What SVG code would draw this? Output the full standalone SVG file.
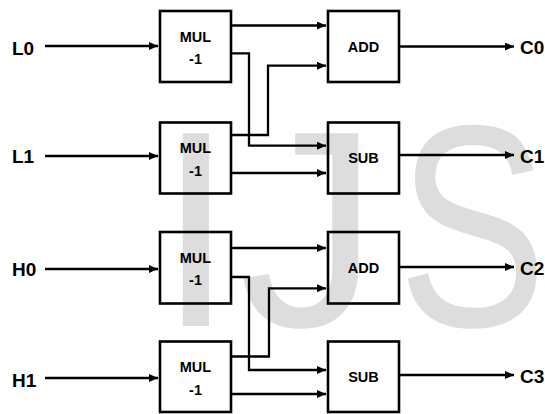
<svg xmlns="http://www.w3.org/2000/svg" width="545" height="414" viewBox="0 0 545 414">
<defs>
<style>
.wm{font-family:"Liberation Sans",Arial,sans-serif;font-size:280px;fill:#dddddd}
.box{fill:none;stroke:#000;stroke-width:2.6}
.bt{font-family:"Liberation Sans",Arial,sans-serif;font-weight:bold;font-size:14.5px;text-anchor:middle;fill:#000}
.lbl{font-family:"Liberation Sans",Arial,sans-serif;font-weight:bold;font-size:19px;fill:#000}
.ln{fill:none;stroke:#000;stroke-width:2.3;marker-end:url(#ah)}
</style>
<marker id="ah" markerUnits="userSpaceOnUse" markerWidth="10" markerHeight="9" refX="9" refY="4" orient="auto">
<path d="M0,0 L9,4 L0,8 z" fill="#000"/>
</marker>
</defs>
<rect width="545" height="414" fill="#fff"/>
<g id="watermark">
<text class="wm" x="157" y="326">I</text>
<text class="wm" x="239" y="326">J</text>
<text class="wm" transform="translate(408,326) scale(0.8,1.03)" x="-13" y="0">S</text>
</g>
<g id="connectors">
<path class="ln" d="M45,46 H158"/>
<path class="ln" d="M45,156 H158"/>
<path class="ln" d="M45,269 H158"/>
<path class="ln" d="M45,378 H158"/>
<path class="ln" d="M232,25.5 H326"/>
<path class="ln" d="M232,53.3 H249 V145.7 H326"/>
<path class="ln" d="M232,135 H268 V65.7 H326"/>
<path class="ln" d="M232,173 H326"/>
<path class="ln" d="M232,248 H326"/>
<path class="ln" d="M232,277 H249 V370 H326"/>
<path class="ln" d="M232,356.5 H269 V288.3 H326"/>
<path class="ln" d="M232,394 H326"/>
<path class="ln" d="M400,46.5 H514"/>
<path class="ln" d="M400,155 H514"/>
<path class="ln" d="M400,267 H514"/>
<path class="ln" d="M400,375 H514"/>
</g>
<g id="in-L0"><text class="lbl" x="12" y="55">L0</text></g>
<g id="in-L1"><text class="lbl" x="12" y="163">L1</text></g>
<g id="in-H0"><text class="lbl" x="12" y="275.5">H0</text></g>
<g id="in-H1"><text class="lbl" x="12" y="386.5">H1</text></g>
<g id="mul0"><rect class="box" x="160" y="11" width="71" height="71"/><text class="bt" x="195.5" y="41.7">MUL</text><text class="bt" x="195.5" y="64">-1</text></g>
<g id="mul1"><rect class="box" x="160" y="122.5" width="71" height="71"/><text class="bt" x="195.5" y="153.2">MUL</text><text class="bt" x="195.5" y="175.5">-1</text></g>
<g id="mul2"><rect class="box" x="160" y="232" width="71" height="71.5"/><text class="bt" x="195.5" y="262.7">MUL</text><text class="bt" x="195.5" y="285">-1</text></g>
<g id="mul3"><rect class="box" x="160" y="341.5" width="71" height="70.5"/><text class="bt" x="195.5" y="372.2">MUL</text><text class="bt" x="195.5" y="394.5">-1</text></g>
<g id="add0"><rect class="box" x="328" y="11" width="71" height="71"/><text class="bt" x="363.5" y="51.7">ADD</text></g>
<g id="sub0"><rect class="box" x="328" y="122.5" width="71" height="71"/><text class="bt" x="363.5" y="163.2">SUB</text></g>
<g id="add1"><rect class="box" x="328" y="232" width="71" height="71.5"/><text class="bt" x="363.5" y="272.7">ADD</text></g>
<g id="sub1"><rect class="box" x="328" y="341.5" width="71" height="70.5"/><text class="bt" x="363.5" y="382.2">SUB</text></g>
<g id="out-C0"><text class="lbl" x="520" y="54">C0</text></g>
<g id="out-C1"><text class="lbl" x="520" y="163">C1</text></g>
<g id="out-C2"><text class="lbl" x="520" y="275">C2</text></g>
<g id="out-C3"><text class="lbl" x="520" y="383">C3</text></g>
</svg>
